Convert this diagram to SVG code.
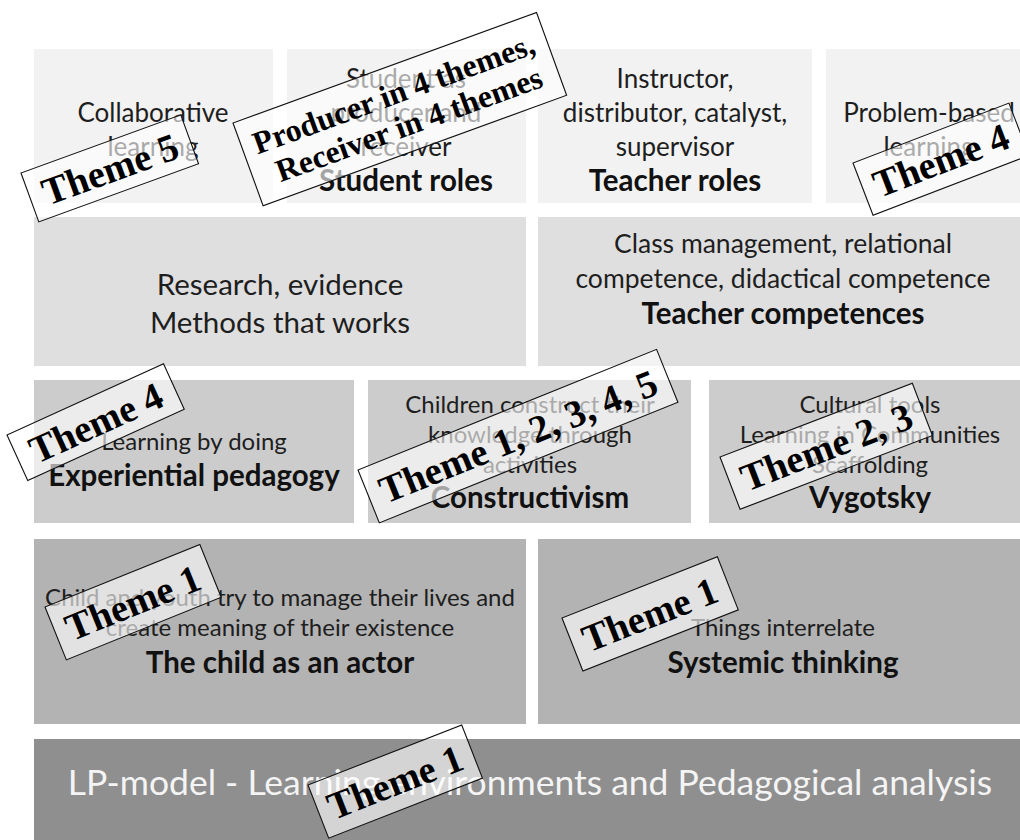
<svg xmlns="http://www.w3.org/2000/svg" width="1020" height="840" viewBox="0 0 1020 840">
<style>
.t{font-family:Lato,"Liberation Sans",sans-serif;fill:#1e1e1e;text-anchor:middle}
.b{font-weight:bold;font-size:29.5px;fill:#111}
.r1{font-size:26px}
.r2{font-size:29.5px}
.r2s{font-size:26.5px}
.r3{font-size:24px}
.r4{font-size:24px}
.lab rect{fill:#fff;fill-opacity:0.62;stroke:#111;stroke-width:1.1}
.lab text{font-family:"Liberation Serif","Times New Roman",serif;font-weight:bold;font-size:38.5px;fill:#000;text-anchor:middle}
</style>
<rect width="1020" height="840" fill="#fff"/>
<g id="row1">
<g id="collab"><rect x="34" y="49" width="239" height="154" fill="#f2f2f2"/>
<text class="t r1" x="153" y="122">Collaborative</text><text class="t r1" x="153" y="156">learning</text></g>
<g id="student-roles"><rect x="287" y="49" width="239" height="154" fill="#f2f2f2"/>
<text class="t r1" x="406" y="88">Student as</text><text class="t r1" x="406" y="122">producer and</text><text class="t r1" x="406" y="156">receiver</text><text class="t b" x="406" y="191">Student roles</text></g>
<g id="teacher-roles"><rect x="538" y="49" width="274" height="154" fill="#f2f2f2"/>
<text class="t r1" x="675" y="88">Instructor,</text><text class="t r1" x="675" y="122">distributor, catalyst,</text><text class="t r1" x="675" y="156">supervisor</text><text class="t b" x="675" y="191">Teacher roles</text></g>
<g id="problem"><rect x="826" y="49" width="210" height="154" fill="#f2f2f2"/>
<text class="t r1" x="929" y="122">Problem-based</text><text class="t r1" x="929" y="156">learning</text></g>
</g>
<g id="row2">
<g id="research"><rect x="34" y="217" width="492" height="149" fill="#dfdfdf"/>
<text class="t r2" x="280" y="295">Research, evidence</text><text class="t r2" x="280" y="333">Methods that works</text></g>
<g id="teacher-competences"><rect x="538" y="217" width="492" height="149" fill="#dfdfdf"/>
<text class="t r2s" x="783" y="253">Class management, relational</text><text class="t r2s" x="783" y="288">competence, didactical competence</text><text class="t b" x="783" y="324">Teacher competences</text></g>
</g>
<g id="row3">
<g id="experiential"><rect x="34" y="380" width="320" height="143" fill="#cccccc"/>
<text class="t r3" x="194" y="450">Learning by doing</text><text class="t b" x="194" y="486">Experiential pedagogy</text></g>
<g id="constructivism"><rect x="368" y="380" width="323" height="143" fill="#cccccc"/>
<text class="t r3" x="530" y="413">Children construct their</text><text class="t r3" x="530" y="443">knowledge through</text><text class="t r3" x="530" y="473">activities</text><text class="t b" x="530" y="508">Constructivism</text></g>
<g id="vygotsky"><rect x="709" y="380" width="322" height="143" fill="#cccccc"/>
<text class="t r3" x="870" y="413">Cultural tools</text><text class="t r3" x="870" y="443">Learning in Communities</text><text class="t r3" x="870" y="473">Scaffolding</text><text class="t b" x="870" y="508">Vygotsky</text></g>
</g>
<g id="row4">
<g id="child-actor"><rect x="34" y="539" width="492" height="185" fill="#b3b3b3"/>
<text class="t r4" x="280" y="606">Child and youth try to manage their lives and</text><text class="t r4" x="280" y="636">create meaning of their existence</text><text class="t b" x="280" y="673">The child as an actor</text></g>
<g id="systemic"><rect x="538" y="539" width="492" height="185" fill="#b3b3b3"/>
<text class="t r4" x="783" y="636">Things interrelate</text><text class="t b" x="783" y="673">Systemic thinking</text></g>
</g>
<g id="lp-model"><rect x="34" y="739" width="996" height="110" fill="#8f8f8f"/>
<text class="t" x="530" y="795" style="font-size:35.5px;fill:#f4f4f4">LP-model - Learning environments and Pedagogical analysis</text></g>
<g id="connectors"></g>
<g id="labels">
<g id="lab-theme5" class="lab" transform="translate(21,173) rotate(-20)"><rect width="170" height="52"/><text x="85" y="40">Theme 5</text></g>
<g id="lab-producer" class="lab" transform="translate(233,123) rotate(-20)"><rect width="323" height="88"/><text x="161" y="38" style="font-size:32px">Producer in 4 themes,</text><text x="165" y="72" style="font-size:32px">Receiver in 4 themes</text></g>
<g id="lab-theme4a" class="lab" transform="translate(853,163) rotate(-21)"><rect width="167" height="56"/><text x="83" y="42">Theme 4</text></g>
<g id="lab-theme4b" class="lab" transform="translate(7,435) rotate(-24.5)"><rect width="172" height="50"/><text x="86" y="39">Theme 4</text></g>
<g id="lab-theme12345" class="lab" transform="translate(358,470) rotate(-22)"><rect width="322" height="57"/><text x="161" y="42">Theme 1, 2, 3, 4, 5</text></g>
<g id="lab-theme23" class="lab" transform="translate(720,457) rotate(-21)"><rect width="206" height="56"/><text x="103" y="42">Theme 2, 3</text></g>
<g id="lab-theme1a" class="lab" transform="translate(45,607) rotate(-22)"><rect width="167" height="57"/><text x="83" y="42">Theme 1</text></g>
<g id="lab-theme1b" class="lab" transform="translate(562,618) rotate(-21.5)"><rect width="167" height="57"/><text x="83" y="42">Theme 1</text></g>
<g id="lab-theme1c" class="lab" transform="translate(308,785) rotate(-21.3)"><rect width="165" height="57"/><text x="82" y="42">Theme 1</text></g>
</g>
</svg>
